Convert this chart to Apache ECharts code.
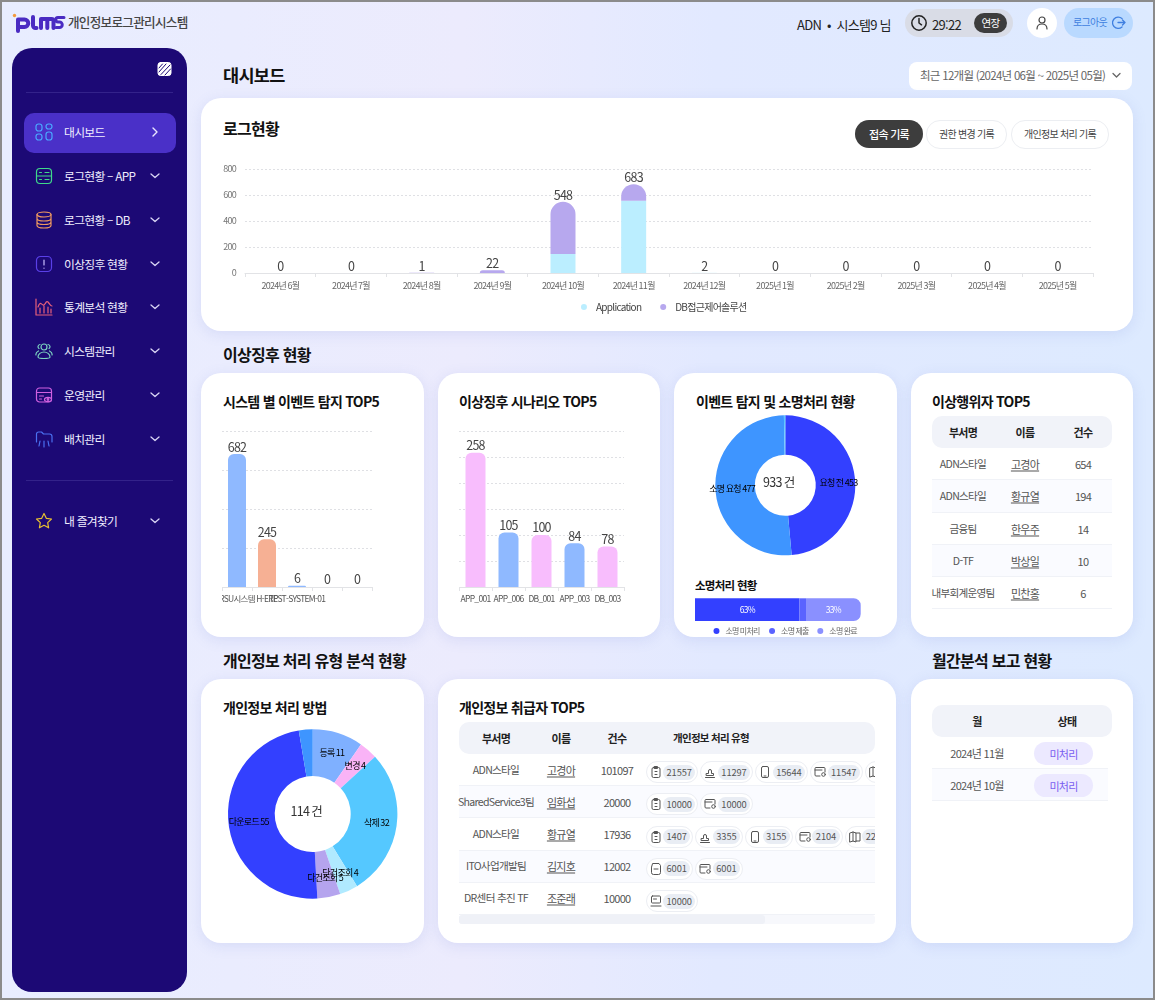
<!DOCTYPE html>
<html lang="ko"><head><meta charset="utf-8"><title>PLMS 대시보드</title>
<script src="https://cdn.jsdelivr.net/npm/echarts@6/dist/echarts.min.js"></script>
<style>
*{box-sizing:border-box}
html,body{margin:0;padding:0;background:#fff;overflow:hidden}
body{width:1156px;height:1002px;position:relative;font-family:"Noto Sans CJK KR","Noto Sans",sans-serif;letter-spacing:-.045em;color:#222}
#frame{position:absolute;left:0;top:0;width:1155px;height:1000px;border:2px solid #8b8b8b;background:linear-gradient(90deg,#e8edff 0%,#ecebfd 40%,#e2e9ff 62%,#ddeaff 100%)}
.abs{position:absolute}
.card{position:absolute;background:#fff;border-radius:20px;box-shadow:0 3px 14px rgba(110,130,210,.16)}
.t{position:absolute;white-space:nowrap;line-height:1}
.chart{position:absolute}
.side{position:absolute;left:12px;top:48px;width:175px;height:944px;background:#1c0975;border-radius:20px}
.pills{position:absolute;display:flex;gap:2px;left:0;height:22px;align-items:center}
.pill{height:22px;border:1px solid #eceef3;border-radius:11px;display:flex;align-items:center;padding:0 2px 0 3px;background:#fff;flex:none}
.pill svg{margin-right:1.5px;flex:none}
.pill span{display:block;height:15px;line-height:15px;border-radius:8px;background:#e9edf4;padding:0 3.5px;font-size:9.3px;letter-spacing:-.01em;color:#555}
</style></head><body><div id="frame"></div><div id="ui"></div>
<script>
/* ---------- data ---------- */
const months=['2024년 6월','2024년 7월','2024년 8월','2024년 9월','2024년 10월','2024년 11월','2024년 12월','2025년 1월','2025년 2월','2025년 3월','2025년 4월','2025년 5월'];
const appLogs=[0,0,0,0,146,556,1,0,0,0,0,0];
const dbLogs=[0,0,1,22,402,127,1,0,0,0,0,0];
const logTotals=[0,0,1,22,548,683,2,0,0,0,0,0];
const systemNames=['RSU시스템','H-ERP','TEST-SYSTEM-01','',''];
const systemValues=[682,245,6,0,0];
const scenarioNames=['APP_001','APP_006','DB_001','APP_003','DB_003'];
const scenarioValues=[258,105,100,84,78];
const eventNames=['요청 전','소명 요청',''];
const eventValues=[453,477,3];
const explainNames=['소명 미처리','소명 제출','소명 완료'];
const explainValues=[63,4,33];
const methodNames=['등록','변경','삭제','단건조회','다건조회','다운로드',''];
const methodValues=[11,4,32,4,5,55,3];
const actorDepts=['ADN스타일','ADN스타일','금융팀','D-TF','내부회계운영팀'];
const actorUsers=['고경아','황규열','한우주','박상일','민찬홍'];
const actorCounts=[654,194,14,10,6];
const handlerDepts=['ADN스타일','SharedService3팀','ADN스타일','ITO사업개발팀','DR센터 추진 TF'];
const handlerUsers=['고경아','임화섭','황규열','김지호','조준래'];
const handlerCounts=[101097,20000,17936,12002,10000];
const handlerTypes=[[['clip',21557],['stamp',11297],['phone',15644],['card',11547],['map',41052]],[['clip',10000],['card',10000]],[['clip',1407],['stamp',3355],['phone',3155],['card',2104],['map',2207]],[['note',6001],['card',6001]],[['print',10000]]];
const reportMonths=['2024년 11월','2024년 10월'];
const reportStates=['미처리','미처리'];
const menuLabels=['대시보드','로그현황 – APP','로그현황 – DB','이상징후 현황','통계분석 현황','시스템관리','운영관리','배치관리','내 즐겨찾기'];

/* ---------- palette ---------- */
const FONT='"Noto Sans CJK KR","Noto Sans",sans-serif';
const systemColors=['#8fb9ff','#f6b094','#8fb9ff','#8fb9ff','#8fb9ff'];
const scenarioColors=['#f8bdfd','#8fb9ff','#f8bdfd','#8fb9ff','#f8bdfd'];
const eventColors=['#3340ff','#3e95ff','#5ac8ff'];
const explainColors=['#3340ff','#5a63ff','#8a90ff'];
const methodColors=['#7fb0ff','#f9b3f6','#55c8ff','#b0eaff','#b5a4ee','#3340ff','#3e95ff'];

/* ---------- ui helpers ---------- */
const ui=document.getElementById('ui');
function el(cls,css,html,parent){const d=document.createElement('div');d.className=cls;d.style.cssText=css;if(html!==undefined)d.innerHTML=html;(parent||ui).appendChild(d);return d;}
function box(x,y,w,h,css,html,parent){return el('abs',`left:${x}px;top:${y}px;width:${w}px;height:${h}px;${css||''}`,html,parent);}
function card(x,y,r,b){return el('card',`left:${x}px;top:${y}px;width:${r-x}px;height:${b-y}px`);}
function txt(x,y,s,size,color,weight,parent){return el('t',`left:${x}px;top:${y}px;transform:translateY(-50%);font-size:${size}px;color:${color};font-weight:${weight||400}`,s,parent);}
function ctxt(x,y,s,size,color,weight,extra,parent){return el('t',`left:${x}px;top:${y}px;transform:translate(-50%,-50%);font-size:${size}px;color:${color};font-weight:${weight||400};${extra||''}`,s,parent);}
function svg(w,h,inner,stroke,sw){return `<svg width="${w}" height="${h}" viewBox="0 0 ${w} ${h}" fill="none" stroke="${stroke}" stroke-width="${sw||1.3}" stroke-linecap="round" stroke-linejoin="round" style="display:block">${inner}</svg>`;}

/* ---------- sidebar ---------- */
el('side','');
box(26,92,147,1,'background:#33228a');box(26,480,147,1,'background:#33228a');
box(23.5,112.5,152.5,40.5,'background:#4a30c8;border-radius:10px');
box(157,61,15,16,'',svg(15,16,'<rect x="1" y="1.5" width="13" height="13" rx="2.5" fill="#fff" stroke="#fff"/><path d="M2 11 9 3M4 13.5 13 4M8 14l5.5-6M2 7 5.5 3" stroke="#1c0975"/>','#fff',1));
const menuY=[132,176,220,264,307,351,395,439,521];
const menuIcons=[
 ['#4aa8ff','<rect x="1" y="1" width="6" height="7" rx="2.5"/><rect x="11" y="1" width="6" height="5" rx="2.5"/><rect x="1" y="11" width="6" height="6" rx="2.5"/><rect x="11" y="9" width="6" height="8" rx="2.5"/>'],
 ['#3fd98a','<rect x="1.5" y="1.5" width="15" height="15" rx="3.5"/><path d="M1.5 9h15M4.5 5.5h2M10 5.5h4M4.5 12.5h2M10 12.5h4"/>'],
 ['#f09a60','<ellipse cx="9" cy="3.5" rx="7" ry="2.5"/><path d="M2 3.5v11c0 1.5 3 2.5 7 2.5s7-1 7-2.5v-11M2 7.5c0 1.5 3 2.5 7 2.5s7-1 7-2.5M2 11c0 1.5 3 2.5 7 2.5s7-1 7-2.5"/>'],
 ['#5a40e8','<rect x="1.5" y="1.5" width="15" height="15" rx="4"/><path d="M9 5v5M9 13v.2" stroke="#c9bfff"/>'],
 ['#e8607a','<path d="M1 1v16h16M3 9c2-6 3-3 5-2s3-5 5-3 2 4 4 4M5 15v-5M9 15V8M13 15v-6M16 15v-4"/>'],
 ['#7ad0c0','<circle cx="9" cy="5" r="3"/><path d="M4 6.5a2.2 2.2 0 0 1 1-4M14 6.5a2.2 2.2 0 0 0-1-4M3 15c0-3 3-5 6-5s6 2 6 5c0 1-3 1.5-6 1.5S3 16 3 15zM1 13c-.5-2 .5-3 2.5-4M17 13c.5-2-.5-3-2.5-4"/>'],
 ['#d060e0','<rect x="1.5" y="2" width="15" height="14" rx="3"/><path d="M1.5 6.5h15M4.5 10h4M4.5 13h2"/><ellipse cx="13" cy="13.5" rx="3.5" ry="2.2" fill="#1c0975"/><circle cx="13" cy="13.5" r=".8"/>'],
 ['#4a70f0','<path d="M1.5 12V4a2 2 0 0 1 2-2h3l2 2h6a2.5 2.5 0 0 1 2.5 2.5V12M5 11l-1 5M9 11v6M13 11l1 5"/>'],
 ['#e8c030','<path d="M9 1.5l2.3 4.8 5.2.7-3.8 3.6.9 5.2L9 13.3l-4.6 2.5.9-5.2L1.5 7l5.2-.7z"/>']];
menuLabels.forEach((s,i)=>{
  box(35,menuY[i]-9,18,18,'',svg(18,18,menuIcons[i][1],menuIcons[i][0],1.2));
  txt(64,menuY[i]-.5,s,11.8,'#f1efff',400);
  box(150,menuY[i]-5,10,10,'',i===0?svg(10,10,'<path d="M3 1l4 4-4 4"/>','#e9e6ff',1.4):svg(10,10,'<path d="M1 3l4 3.5L9 3"/>','#d9d5f5',1.3));
});

/* ---------- header ---------- */
box(12,12,54,22,'',`<svg width="54" height="22" viewBox="0 0 54 22" fill="none" stroke="#4a2bc2" stroke-width="4" stroke-linecap="round" stroke-linejoin="round"><circle cx="2.5" cy="3.5" r="1.7" fill="#f39a3d" stroke="none"/><path d="M6 19V7.5h6.5a3.5 3.5 0 0 1 0 7.5H6"/><path d="M21 5v8.5a2.5 2.5 0 0 0 2.5 2.5h1"/><path d="M29 16V7h10.5a2 2 0 0 1 2 2v7M35.3 7v9"/><path d="M52 5.5h-6a2 2 0 0 0 0 4.5h1.5a2.5 2.5 0 0 1 0 5.5H44" stroke-width="3"/></svg>`);
txt(68,22,'개인정보로그관리시스템',12.6,'#444',500);
txt(797,24,'ADN &nbsp;•&nbsp; 시스템9 님',13,'#222',400);
box(905,9,108,28,'background:#d9dce6;border-radius:14px');
box(910,14,18,18,'',svg(18,18,'<circle cx="9" cy="9" r="7.2"/><path d="M9 4.5V9l2.5 1.8"/>','#222',1.5));
txt(932,23.5,'29:22',13,'#222');
box(974,13,33,20,'background:#3d3d3d;border-radius:10px');
ctxt(990.5,23,'연장',10.5,'#fff');
box(1027,8,30,30,'background:#fff;border-radius:15px');
box(1035,15,14,16,'',svg(14,16,'<circle cx="7" cy="5" r="3"/><path d="M2 14c0-3 2-5 5-5s5 2 5 5"/>','#444',1.2));
box(1064,8,69,30,'background:#b9d9ff;border-radius:15px');
txt(1073,22,'로그아웃',10,'#3f7fe0',400);
box(1112,15,14,15,'',svg(14,15,'<path d="M10 3.5A5.8 5.8 0 0 0 2 4a6 6 0 0 0 0 7.5 5.8 5.8 0 0 0 8 .5M6 7.5h7M10.5 5l2.5 2.5L10.5 10"/>','#3f7fe0',1.3));
txt(223,75,'대시보드',17.5,'#111',600);
box(909,62,223,28,'background:#fff;border-radius:8px');
txt(920,75.5,'최근 12개월 (2024년 06월 ~ 2025년 05월)',11.5,'#666');
box(1111,71,11,9,'',svg(11,9,'<path d="M2 2.5l3.5 3.5L9 2.5"/>','#666',1.3));

/* ---------- cards ---------- */
card(201,98,1133,331);card(201,373,424,637);card(438,373,660,637);card(674,373,897,637);card(911,373,1133,637);
card(201,679,424,943);card(438,679,896,943);card(911,679,1133,943);
txt(223,127.5,'로그현황',16,'#111',600);
txt(223,353.5,'이상징후 현황',16,'#111',600);txt(223,659.5,'개인정보 처리 유형 분석 현황',16,'#111',600);txt(932,659.5,'월간분석 보고 현황',16,'#111',600);
txt(223,400.5,'시스템 별 이벤트 탐지 TOP5',14,'#111',600);txt(459,400.5,'이상징후 시나리오 TOP5',14,'#111',600);
txt(696,400.5,'이벤트 탐지 및 소명처리 현황',14,'#111',600);txt(932,400.5,'이상행위자 TOP5',14,'#111',600);
txt(223,706.5,'개인정보 처리 방법',14,'#111',600);txt(459,706.5,'개인정보 취급자 TOP5',14,'#111',600);
txt(695,586,'소명처리 현황',11.5,'#111',600);
box(855,120,68,28,'background:#3d3d3d;border-radius:14px');ctxt(889,133.5,'접속 기록',11,'#fff',500);
box(926,120,81,29,'border:1px solid #eceef2;border-radius:14px');ctxt(966.5,133.5,'권한 변경 기록',10,'#444');
box(1011,120,98,29,'border:1px solid #eceef2;border-radius:14px');ctxt(1060,133.5,'개인정보 처리 기록',10,'#444');

/* ---------- tables ---------- */
function head(x,y,w,labels){box(x,y,w,32,'background:#f1f3f9;border-radius:10px');labels.forEach(l=>ctxt(l[0],y+16,l[1],l[2]||11,'#222',600));}
function zebra(x,y,w,h,i,c){box(x,y,w,h,(i%2?'background:#fafbff;':'')+`border-bottom:1px solid ${c||'#f0f2f7'}`);}
function userLink(x,y,s){ctxt(x,y,s,11,'#555',400,'text-decoration:underline;text-underline-offset:2px');}
head(932,416,180,[[963,'부서명'],[1025,'이름'],[1083,'건수']]);
actorDepts.forEach((d,i)=>{const y=448+i*32.3;zebra(932,y,180,32.3,i);
  ctxt(963,y+16,d,10.6,'#555');userLink(1025,y+16,actorUsers[i]);ctxt(1083,y+16,actorCounts[i],11,'#555');});
head(459,722,416,[[496,'부서명'],[561,'이름'],[617,'건수'],[711,'개인정보 처리 유형',10.5]]);
const icons={
 clip:'<rect x="2" y="2.5" width="8" height="10" rx="1.5"/><path d="M4.5 1.5h3v2h-3zM5 6.5h2M5 9.5h2"/>',
 stamp:'<path d="M1.5 12.5h9M2.5 10.5h7v-2h-2V6a1.5 1.5 0 1 0-3 0v2.5h-2z"/>',
 phone:'<rect x="2.5" y="1.5" width="7" height="11" rx="1.5"/><path d="M5 11h2"/>',
 card:'<path d="M11 7V3.5a1 1 0 0 0-1-1H2a1 1 0 0 0-1 1v6.5a1 1 0 0 0 1 1h4M1 5h7"/><circle cx="9.5" cy="9.5" r="1.8"/>',
 map:'<path d="M1 3l3-1 3 1v9l-3-1-3 1zM4 2v9M7 3h4v8H7"/>',
 note:'<path d="M3 1.5h6l1.5 2v7a2 2 0 0 1-2 2h-5a2 2 0 0 1-2-2v-5zM4 7h4"/>',
 print:'<rect x="1.5" y="2" width="9" height="7" rx="1"/><path d="M1 12h10M3.5 5h3"/>'};
handlerDepts.forEach((d,i)=>{const y=754+i*32.2;zebra(459,y,416,32.2,i);
  ctxt(496,y+15.5,d,10.6,'#555');userLink(561,y+15.5,handlerUsers[i]);ctxt(617,y+15.5,handlerCounts[i],11,'#555');
});
const clip=box(459,754,416,161,'overflow:hidden;background:transparent');
handlerTypes.forEach((row,i)=>{const p=el('pills',`left:186.5px;top:${i*32.3+7}px`,undefined,clip);
  row.forEach(([k,v])=>el('pill','',svg(12,14,icons[k],'#555',1)+`<span>${v}</span>`,p));});
box(459,915,416,9,'background:#f7f8fc;border-radius:3px');box(459,915,306,9,'background:#eff1f7;border-radius:3px');
head(932,705,180,[[977,'월'],[1067,'상태']]);
reportMonths.forEach((m,i)=>{const y=737+i*32.2;zebra(932,y,176,32.2,i,'#f0f2f7');
  ctxt(977,y+16,m,11,'#555');box(1034,y+5,59,23,'background:#ece9ff;border-radius:12px');ctxt(1063.5,y+16.5,reportStates[i],11,'#7a60f0');});

/* ---------- charts ---------- */
function mount(x,y,w,h){const d=el('chart',`left:${x}px;top:${y}px;width:${w}px;height:${h}px`);return echarts.init(d,null,{width:w,height:h});}
const grid={type:[2,2],color:'#dfe0e4',width:1};
const logChart=mount(201,150,932,175);
logChart.setOption({animation:false,textStyle:{fontFamily:FONT},
 legend:{data:['Application','DB접근제어솔루션'],top:147,left:'center',icon:'circle',itemWidth:6,itemHeight:6,itemGap:11,textStyle:{fontSize:10,color:'#444',fontFamily:FONT,padding:[0,0,0,4]}},
 grid:{left:44,top:19,width:848,height:104,outerBoundsMode:'none'},
 xAxis:{type:'category',data:months,axisLine:{lineStyle:{color:'#e2e3e6'}},axisTick:{show:true,length:4,lineStyle:{color:'#e2e3e6'}},axisLabel:{interval:0,fontSize:9,color:'#666',margin:8,fontFamily:FONT}},
 yAxis:{type:'value',min:0,max:800,interval:200,axisLine:{show:false},axisTick:{show:false},axisLabel:{fontSize:9,color:'#777',margin:9,fontFamily:FONT},splitLine:{lineStyle:grid}},
 series:[
  {name:'Application',type:'bar',stack:'a',barWidth:25,data:appLogs,itemStyle:{color:'#bbeeff'}},
  {name:'DB접근제어솔루션',type:'bar',stack:'a',barWidth:25,data:dbLogs,itemStyle:{color:'#b7a8ee',borderRadius:[13,13,0,0]}},
  {name:'합계',type:'line',data:logTotals,symbol:'circle',symbolSize:1,showSymbol:true,showAllSymbol:true,lineStyle:{width:0,color:'transparent'},itemStyle:{color:'transparent'},label:{show:true,position:'top',distance:0,fontSize:12.5,color:'#444',fontFamily:FONT}}
 ]});
function barChart(x,w,names,values,colors,bw,max,interval,radius,labelSize){
 const c=mount(x,425,w,190);
 c.setOption({animation:false,grid:{left:0,right:2,top:6,height:156,outerBoundsMode:'none'},
  xAxis:{type:'category',data:names,axisLine:{lineStyle:{color:'#e2e3e6'}},axisTick:{show:true,length:4,lineStyle:{color:'#e2e3e6'}},axisLabel:{interval:0,hideOverlap:false,fontSize:labelSize,color:'#555',margin:8,fontFamily:FONT}},
  yAxis:{type:'value',min:0,max:max,interval:interval,axisLine:{show:false},axisTick:{show:false},axisLabel:{show:false},splitLine:{lineStyle:grid}},
  series:[{type:'bar',barWidth:bw,data:values,itemStyle:{color:p=>colors[p.dataIndex],borderRadius:[radius,radius,0,0]},label:{show:true,position:'top',distance:1,fontSize:12.5,color:'#444',fontFamily:FONT}}]});
}
barChart(222,152,systemNames,systemValues,systemColors,18,800,200,6,8.5);
barChart(459,167,scenarioNames,scenarioValues,scenarioColors,20,300,50,6,8.5);
function donut(x,y,size,cx,cy,r0,r1,names,values,colors,center,labelSize){
 const c=mount(x,y,size,size);
 c.setOption({animation:false,
  graphic:[{type:'text',left:cx-24,top:cy-9,style:{text:center,width:48,fontSize:12.5,fill:'#333',fontFamily:FONT,textAlign:'center'}}],
  series:[{type:'pie',center:[cx,cy],radius:[r0,r1],startAngle:90,clockwise:true,minAngle:0,avoidLabelOverlap:false,labelLayout:{hideOverlap:false},
   data:values.map((v,i)=>({name:names[i],value:v,itemStyle:{color:colors[i]}})),
   label:{show:true,position:'inside',fontSize:labelSize,color:'#000',fontFamily:FONT,formatter:p=>p.name?p.name+' '+p.value:''},labelLine:{show:false}}]});
}
donut(705,405,160,80.3,80.3,30.5,70,eventNames,eventValues,eventColors,'933 건',9);
donut(220,720,190,92.7,94,38,84.7,methodNames,methodValues,methodColors,'114 건',9);
const explainChart=mount(682,592,210,46);
explainChart.setOption({animation:false,
 legend:{data:explainNames,top:30,left:'center',icon:'circle',itemWidth:6,itemHeight:6,itemGap:5,textStyle:{fontSize:8,color:'#666',fontFamily:FONT,padding:[0,0,0,1]}},
 grid:{left:13,top:6.3,width:165.7,height:22.7,outerBoundsMode:'none'},
 xAxis:{type:'value',min:0,max:100,show:false},yAxis:{type:'category',data:['소명처리'],show:false},
 series:explainNames.map((n,i)=>({name:n,type:'bar',stack:'s',barWidth:22.7,data:[explainValues[i]],itemStyle:{color:explainColors[i],borderRadius:i===2?[0,7,7,0]:0},
  label:{show:i!==1,position:'inside',formatter:'{c}%',fontSize:8.5,color:'#fff',fontFamily:FONT}}))});
</script></body></html>
